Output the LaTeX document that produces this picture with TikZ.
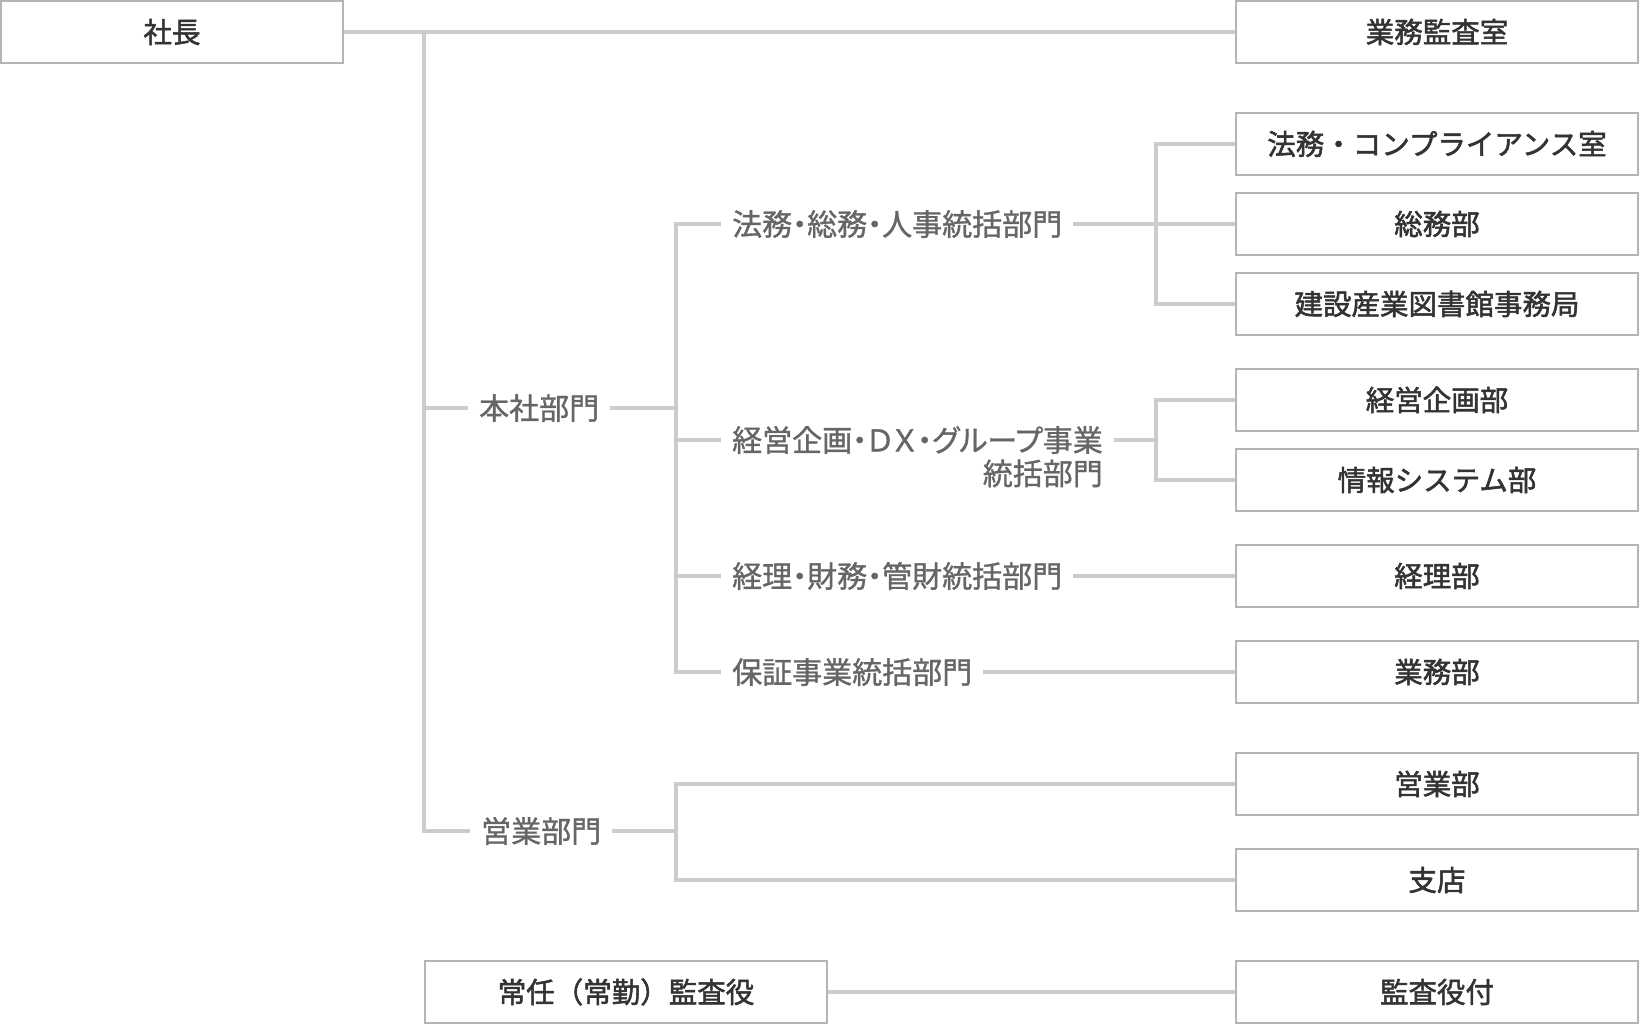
\documentclass[tikz,border=0pt]{standalone}
\usepackage{fontspec}
\usepackage{tikz}
\usetikzlibrary{positioning}
\newfontfamily\jpfont[FakeBold=1.8]{Noto Sans CJK JP}
\newfontfamily\jpprop[RawFeature=+palt,FakeBold=1.1]{Noto Sans CJK JP}
\definecolor{framegray}{RGB}{180,180,180}
\definecolor{wiregray}{RGB}{204,204,204}
\definecolor{posttext}{RGB}{51,51,51}
\definecolor{unittext}{RGB}{102,102,102}
\tikzset{
  wire/.style={draw=wiregray,line width=3.5pt},
  post/.style={draw=framegray,line width=2pt,fill=white,minimum width=402pt,minimum height=62pt,
               inner sep=0pt,text=posttext,font=\jpfont\fontsize{28.5}{34}\selectfont,
               text height=25pt,text depth=3.5pt},
  head/.style={post,minimum width=342pt},
  unit/.style={text=unittext,inner xsep=11pt,inner ysep=0pt,anchor=west,
               font=\jpprop\fontsize{30}{36}\selectfont,text height=26.4pt,text depth=3.6pt},
}

\begin{document}
\begin{tikzpicture}[x=1pt,y=-1pt]
  \path[use as bounding box] (0,0) rectangle (1640,1024);

  \node[head] (shacho) at (172,32) {社長};
  \node[post] (kansashitsu) at (1437,32) {業務監査室};
  \node[post] (compliance) at (1437,144) {法務・コンプライアンス室};
  \node[post] (soumu) at (1437,224) {総務部};
  \node[post] (library) at (1437,304) {建設産業図書館事務局};
  \node[post] (kikaku) at (1437,400) {経営企画部};
  \node[post] (joho) at (1437,480) {情報システム部};
  \node[post] (keiribu) at (1437,576) {経理部};
  \node[post] (gyomubu) at (1437,672) {業務部};
  \node[post] (eigyobu) at (1437,784) {営業部};
  \node[post] (shiten) at (1437,880) {支店};
  \node[post] (tsuki) at (1437,992) {監査役付};
  \node[post] (jonin) at (626,992) {常任（常勤）監査役};

  \node[unit] (honsha) at (468,408) {本社部門};
  \node[unit] (eigyo) at (470,831) {営業部門};
  \node[unit] (houmu) at (721,224) {法務・総務・人事統括部門};
  \node[unit] (keiei) at (721,440) {経営企画・ＤＸ・グループ事業};
  \node[unit,below left=3pt and 0pt of keiei.south east] (keiei2) {統括部門};
  \node[unit] (keiri) at (721,576) {経理・財務・管財統括部門};
  \node[unit] (hosho) at (721,672) {保証事業統括部門};

  \coordinate (trunk) at (424,32);
  \coordinate (hqbus) at (676,408);
  \coordinate (salesbus) at (676,831);
  \coordinate (houmubus) at (1156,224);
  \coordinate (keieibus) at (1156,440);

  \draw[wire] (shacho) -- (kansashitsu);
  \draw[wire] (trunk) |- (eigyo.west);
  \draw[wire] (trunk) |- (honsha.west);

  \draw[wire] (honsha.east) -- (hqbus);
  \draw[wire] (houmu.west) -| (hqbus) |- (hosho.west);
  \draw[wire] (hqbus) |- (keiei.west);
  \draw[wire] (hqbus) |- (keiri.west);

  \draw[wire] (houmu.east) -- (soumu.west);
  \draw[wire] (compliance.west) -| (houmubus) |- (library.west);
  \draw[wire] (keiei.east) -- (keieibus);
  \draw[wire] (kikaku.west) -| (keieibus) |- (joho.west);
  \draw[wire] (keiri.east) -- (keiribu.west);
  \draw[wire] (hosho.east) -- (gyomubu.west);

  \draw[wire] (eigyo.east) -- (salesbus);
  \draw[wire] (eigyobu.west) -| (salesbus) |- (shiten.west);

  \draw[wire] (jonin) -- (tsuki);
\end{tikzpicture}
\end{document}
